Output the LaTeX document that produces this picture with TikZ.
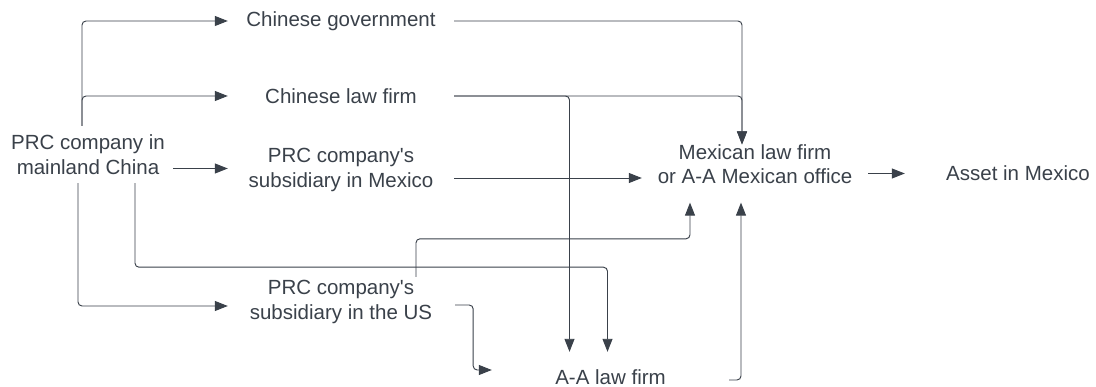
\documentclass[tikz,border=0pt]{standalone}
\usepackage{fontspec}
\setmainfont{Liberation Sans}
\usetikzlibrary{calc,arrows.meta}
\definecolor{ink}{HTML}{3A414A}
\begin{document}
\begin{tikzpicture}[x=1pt,y=-1pt,
  box/.style={inner sep=0pt,minimum width=226pt,minimum height=50pt,align=center,text=ink,
    font=\fontsize{20.5}{24.5}\selectfont},
  arr/.style={draw=ink,line width=0.95pt,rounded corners=4pt,-{Triangle[length=13pt,width=10pt]}}]
\useasboundingbox[fill=white] (0,0) rectangle (1096,387);
\node[box,minimum width=170pt,minimum height=57pt] (prc) at (88,154.5) {PRC company in\\mainland China};
\node[box] (gov) at (341,21) {Chinese government};
\node[box] (clf) at (341,96) {Chinese law firm};
\node[box] (mx) at (341,170) {PRC company\textquotesingle s\\subsidiary in Mexico};
\node[box] (us) at (341,302) {PRC company\textquotesingle s\\subsidiary in the US};
\node[box,minimum width=237pt] (aa) at (610.5,377) {A-A law firm};
\node[box,minimum height=57pt] (mex) at (755,173.5) {Mexican law firm\\or A-A Mexican office\\[-6pt]};
\node[box] (asset) at (1018,173.5) {Asset in Mexico};
% from PRC company
\draw[arr] ($(prc.north)+(-6,0)$) |- (gov.west);
\draw[arr] ($(prc.north)+(-6,0)$) |- (clf.west);
\draw[arr] ($(prc.east)+(0,14)$) coordinate (t1) -- (t1 -| mx.west);
\draw[arr] ($(prc.south)+(-10,0)$) |- ($(us.west)+(0,4)$);
\draw[arr] ($(prc.south)+(47,0)$) -- ++(0,84) -| ($(aa.north)+(-3,0)$);
% to Mexican law firm
\draw[arr] (gov.east) -| ($(mex.north)+(-13,0)$);
\draw[arr] (clf.east) -| ($(mex.north)+(-13,0)$);
\draw[arr] (clf.east) -| ($(aa.north)+(-41,0)$);
\draw[arr] ($(mx.east)+(0,8)$) coordinate (t2) -- (t2 -| mex.west);
\draw[arr] ($(us.north)+(75,0)$) -- ++(0,-38) -| ($(mex.south)+(-65,0)$);
\draw[arr] ($(us.east)+(1,3)$) -- ++(18,0) |- ($(aa.west)+(0,-7)$);
\draw[arr] ($(aa.east)+(0,3)$) -| ($(mex.south)+(-14,0)$);
\draw[arr] (mex.east) -- (asset.west);
\end{tikzpicture}
\end{document}
